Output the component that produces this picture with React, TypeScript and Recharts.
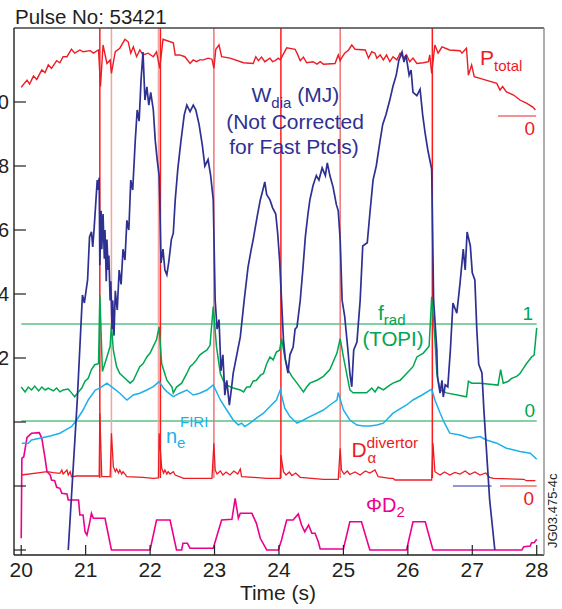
import React from "react";
import { ComposedChart, Line, XAxis, YAxis, ReferenceLine } from "recharts";

// JET pulse 53421 — traces, each on its own hidden scale
const timeTicks = [20, 21, 22, 23, 24, 25, 26, 27, 28];
const wTicks = [-4, -2, 0, 2, 4, 6, 8, 10];
const wLabelled = [2, 4, 6, 8, 10];

// W_dia (MJ)
const wDia: [number, number][] = [
  [20.73, -4.0], [20.87, 0.69], [20.95, 3.97], [20.98, 3.72], [21.03, 4.44], [21.06, 5.78], [21.09, 5.94],
  [21.11, 5.47], [21.13, 6.0], [21.16, 6.94], [21.18, 7.56], [21.19, 7.25], [21.21, 7.63], [21.22, 4.9],
  [21.24, 6.6], [21.25, 5.4], [21.27, 6.5], [21.29, 5.1], [21.3, 6.0], [21.32, 4.4], [21.33, 5.7], [21.35, 4.75],
  [21.36, 5.2], [21.38, 3.8], [21.39, 4.4], [21.41, 2.9], [21.42, 3.8], [21.44, 2.7], [21.46, 4.1], [21.49, 3.5],
  [21.52, 4.75], [21.55, 4.3], [21.58, 5.4], [21.61, 5.06], [21.64, 6.3], [21.67, 6.0], [21.7, 7.56], [21.73, 7.25],
  [21.77, 8.8], [21.8, 9.75], [21.83, 9.4], [21.86, 10.7], [21.89, 11.56], [21.92, 10.06], [21.95, 10.47],
  [21.98, 9.9], [22.01, 10.3], [22.05, 9.75], [22.08, 8.8], [22.11, 8.2], [22.14, 7.7], [22.15, 6.94], [22.17, 4.97],
  [22.2, 5.4], [22.23, 4.75], [22.26, 4.6], [22.29, 5.0], [22.33, 5.7], [22.36, 5.9], [22.39, 6.94], [22.43, 7.9],
  [22.48, 8.8], [22.53, 9.6], [22.57, 9.9], [22.62, 9.7], [22.67, 9.9], [22.71, 9.75], [22.76, 9.3], [22.81, 8.66],
  [22.85, 8.0], [22.9, 8.2], [22.94, 7.7], [22.98, 6.94], [23.01, 3.8], [23.04, 2.9], [23.07, 3.2], [23.1, 1.6],
  [23.13, 2.1], [23.16, 0.84], [23.19, 1.3], [23.23, 0.53], [23.26, 1.0], [23.29, 1.53], [23.33, 1.94], [23.4, 2.66],
  [23.46, 3.8], [23.52, 4.84], [23.57, 5.4], [23.6, 5.7], [23.66, 6.4], [23.71, 6.94], [23.75, 7.25], [23.78, 7.5],
  [23.81, 7.1], [23.86, 6.94], [23.9, 6.7], [23.95, 6.5], [23.98, 5.9], [24.01, 5.06], [24.04, 3.8], [24.07, 2.56],
  [24.1, 1.94], [24.14, 1.53], [24.17, 2.1], [24.22, 2.34], [24.25, 2.9], [24.28, 2.97], [24.33, 3.8], [24.37, 4.75],
  [24.41, 5.8], [24.45, 6.5], [24.48, 6.94], [24.53, 7.4], [24.58, 7.7], [24.62, 7.56], [24.67, 7.94], [24.72, 7.7],
  [24.75, 8.1], [24.79, 7.7], [24.84, 7.34], [24.89, 6.8], [24.92, 6.6], [24.95, 5.7], [24.98, 3.8], [25.02, 3.3],
  [25.07, 2.25], [25.1, 1.53], [25.13, 1.1], [25.16, 2.25], [25.21, 2.5], [25.26, 3.8], [25.3, 5.5], [25.37, 5.6],
  [25.41, 6.5], [25.46, 7.56], [25.51, 8.0], [25.57, 8.8], [25.61, 9.3], [25.66, 9.6], [25.72, 10.06], [25.77, 10.5],
  [25.82, 10.84], [25.86, 11.3], [25.91, 11.56], [25.94, 11.25], [25.97, 11.47], [26.02, 10.84], [26.05, 11.0],
  [26.08, 10.3], [26.14, 10.2], [26.19, 10.4], [26.23, 9.6], [26.27, 9.0], [26.31, 8.5], [26.36, 8.0], [26.37, 7.9],
  [26.4, 3.8], [26.45, 2.25], [26.46, 1.4], [26.5, 0.9], [26.53, 1.3], [26.55, 0.78], [26.58, 1.16], [26.62, 1.1],
  [26.66, 2.25], [26.7, 3.72], [26.76, 3.4], [26.81, 4.34], [26.86, 5.4], [26.89, 4.75], [26.92, 5.94], [26.97, 5.5],
  [27.0, 4.66], [27.04, 4.44], [27.07, 2.9], [27.1, 1.8], [27.15, 1.53], [27.18, 0.38], [27.23, -1.19], [27.27, -2.44],
  [27.35, -4.0],
];

// P_total (MW)
const pTotal: [number, number][] = [
  [20.0, 8.1], [20.09, 10.1], [20.13, 9.0], [20.19, 11.3], [20.24, 10.3], [20.32, 13.0], [20.37, 12.2], [20.42, 14.4],
  [20.47, 13.4], [20.55, 15.6], [20.6, 15.0], [20.65, 16.7], [20.71, 16.7], [20.78, 18.8], [20.83, 17.7], [20.91, 18.6],
  [20.96, 18.1], [21.07, 18.4], [21.12, 17.7], [21.2, 18.6], [21.23, 8.3], [21.27, 20.0], [21.33, 14.8], [21.38, 15.8],
  [21.4, 12.0], [21.46, 18.1], [21.53, 19.1], [21.61, 21.6], [21.66, 20.9], [21.7, 17.7], [21.74, 19.5], [21.79, 16.7],
  [21.84, 18.6], [21.89, 17.2], [21.97, 17.7], [22.05, 16.7], [22.1, 18.1], [22.15, 13.4], [22.2, 21.6], [22.36, 20.6],
  [22.39, 17.2], [22.46, 17.2], [22.54, 16.7], [22.62, 14.8], [22.67, 15.8], [22.72, 15.3], [22.77, 15.8], [22.83, 15.8],
  [22.9, 16.3], [22.96, 16.0], [22.99, 13.4], [23.02, 18.8], [23.07, 20.0], [23.11, 16.7], [23.24, 16.3], [23.45, 15.0],
  [23.6, 14.8], [23.64, 16.7], [23.68, 15.6], [23.73, 16.6], [23.78, 15.3], [23.86, 16.3], [23.9, 15.3], [23.94, 15.6],
  [23.99, 16.3], [24.02, 15.8], [24.12, 19.2], [24.25, 18.8], [24.28, 17.7], [24.33, 15.6], [24.38, 16.6], [24.43, 15.0],
  [24.53, 15.3], [24.59, 14.6], [24.64, 15.3], [24.69, 14.6], [24.87, 14.8], [24.92, 17.2], [24.95, 15.6], [24.97, 16.3],
  [25.02, 17.7], [25.08, 18.6], [25.13, 20.0], [25.18, 18.8], [25.34, 18.6], [25.39, 16.3], [25.44, 18.1], [25.49, 17.7],
  [25.52, 16.3], [25.57, 17.2], [25.62, 15.8], [25.67, 17.2], [25.72, 15.3], [25.77, 16.7], [25.83, 15.8], [25.88, 17.7],
  [25.93, 16.3], [25.98, 17.2], [26.03, 15.3], [26.08, 16.3], [26.14, 14.8], [26.24, 15.0], [26.32, 15.3], [26.34, 17.2],
  [26.37, 12.0], [26.42, 20.0], [26.47, 17.7], [26.53, 19.5], [26.65, 18.6], [26.81, 18.4], [26.84, 17.7], [26.91, 19.1],
  [26.94, 11.5], [26.99, 14.4], [27.03, 11.1], [27.12, 10.6], [27.38, 9.2], [27.43, 7.3], [27.47, 8.3], [27.53, 6.8],
  [27.64, 5.9], [27.74, 4.5], [27.84, 3.6], [27.94, 2.5], [27.98, 1.7],
];

// f_rad (TOPI)
const fRad: [number, number][] = [
  [20.0, 0.35], [20.06, 0.3], [20.11, 0.35], [20.16, 0.32], [20.21, 0.36], [20.27, 0.31], [20.32, 0.35], [20.37, 0.32],
  [20.42, 0.34], [20.5, 0.31], [20.55, 0.34], [20.6, 0.3], [20.65, 0.32], [20.73, 0.33], [20.78, 0.29], [20.83, 0.25],
  [20.89, 0.3], [20.94, 0.34], [20.99, 0.41], [21.04, 0.44], [21.09, 0.53], [21.14, 0.58], [21.2, 0.59], [21.22, 1.3],
  [21.26, 0.51], [21.33, 0.66], [21.38, 0.77], [21.4, 0.99], [21.43, 0.73], [21.48, 0.56], [21.53, 0.49], [21.61, 0.44],
  [21.69, 0.39], [21.74, 0.42], [21.79, 0.49], [21.84, 0.56], [21.89, 0.59], [21.95, 0.66], [22.0, 0.7], [22.05, 0.77],
  [22.1, 0.84], [22.14, 0.97], [22.18, 0.59], [22.26, 0.42], [22.34, 0.35], [22.36, 0.29], [22.41, 0.35], [22.49, 0.39],
  [22.57, 0.49], [22.62, 0.56], [22.67, 0.59], [22.72, 0.63], [22.77, 0.68], [22.83, 0.71], [22.88, 0.73], [22.93, 0.78],
  [22.98, 1.18], [23.03, 0.77], [23.09, 0.49], [23.14, 0.41], [23.19, 0.37], [23.29, 0.34], [23.4, 0.32], [23.45, 0.3],
  [23.5, 0.35], [23.55, 0.35], [23.6, 0.41], [23.65, 0.42], [23.71, 0.47], [23.76, 0.49], [23.81, 0.59], [23.86, 0.66],
  [23.91, 0.63], [23.96, 0.71], [24.01, 0.73], [24.04, 0.85], [24.09, 0.66], [24.14, 0.53], [24.2, 0.46], [24.28, 0.39],
  [24.38, 0.3], [24.43, 0.35], [24.48, 0.39], [24.59, 0.42], [24.69, 0.46], [24.79, 0.53], [24.9, 0.7], [24.95, 0.85],
  [25.0, 0.66], [25.05, 0.49], [25.1, 0.32], [25.15, 0.29], [25.26, 0.29], [25.36, 0.29], [25.44, 0.34], [25.49, 0.3],
  [25.54, 0.35], [25.62, 0.32], [25.72, 0.37], [25.77, 0.39], [25.88, 0.42], [25.98, 0.49], [26.08, 0.56], [26.14, 0.66],
  [26.24, 0.7], [26.33, 0.77], [26.37, 1.28], [26.42, 0.84], [26.45, 0.49], [26.5, 0.32], [26.6, 0.29], [26.91, 0.25],
  [26.94, 0.41], [26.99, 0.39], [27.12, 0.39], [27.4, 0.37], [27.44, 0.53], [27.48, 0.39], [27.56, 0.41], [27.61, 0.44],
  [27.69, 0.46], [27.74, 0.49], [27.79, 0.54], [27.84, 0.59], [27.92, 0.66], [27.96, 0.68], [28.0, 0.96],
];

// n_e FIRI (10^19 m^-3)
const neFiri: [number, number][] = [
  [20.01, 2.14], [20.11, 2.14], [20.16, 2.3], [20.29, 2.39], [20.45, 2.5], [20.6, 2.64], [20.71, 2.84], [20.78, 2.97],
  [20.86, 3.3], [20.91, 3.55], [20.96, 3.8], [21.04, 4.3], [21.15, 4.8], [21.22, 4.89], [21.33, 5.14], [21.43, 4.89],
  [21.53, 4.64], [21.64, 4.3], [21.74, 4.55], [21.84, 4.64], [21.95, 4.8], [22.05, 4.97], [22.14, 5.22], [22.21, 4.89],
  [22.26, 4.72], [22.36, 4.47], [22.46, 4.64], [22.57, 4.8], [22.67, 4.55], [22.77, 4.64], [22.88, 4.8], [22.98, 5.05],
  [23.09, 4.3], [23.19, 3.8], [23.29, 3.3], [23.37, 3.05], [23.42, 3.14], [23.47, 2.97], [23.55, 3.14], [23.65, 3.39],
  [23.76, 3.64], [23.86, 3.97], [23.96, 4.3], [24.02, 4.8], [24.09, 3.89], [24.17, 3.47], [24.28, 3.14], [24.38, 3.3],
  [24.48, 3.47], [24.59, 3.64], [24.69, 3.8], [24.79, 4.05], [24.9, 4.3], [24.92, 4.67], [25.0, 3.8], [25.1, 3.3],
  [25.21, 3.05], [25.31, 3.0], [25.41, 3.0], [25.52, 3.05], [25.62, 3.14], [25.77, 3.64], [25.98, 4.05], [26.08, 4.3],
  [26.22, 4.55], [26.37, 4.84], [26.42, 4.3], [26.5, 3.65], [26.57, 3.14], [26.65, 2.64], [26.81, 2.55], [26.96, 2.39],
  [27.12, 2.47], [27.22, 2.3], [27.38, 2.14], [27.53, 1.89], [27.74, 1.72], [27.9, 1.64], [28.0, 1.34],
];

// D_alpha divertor (a.u.)
const dAlpha: [number, number][] = [
  [20.0, 1.1], [20.29, 1.33], [20.4, 1.43], [20.5, 1.33], [20.6, 1.27], [20.63, 1.6], [20.65, 1.2], [20.71, 1.6],
  [20.73, 1.1], [20.76, 1.43], [20.78, 0.93], [20.86, 1.0], [21.17, 1.0], [21.21, 1.0], [21.22, 7.27], [21.25, 0.93],
  [21.38, 0.93], [21.4, 5.27], [21.43, 1.93], [21.46, 1.43], [21.48, 1.7], [21.51, 1.3], [21.53, 1.6], [21.56, 1.2],
  [21.58, 1.43], [21.64, 0.93], [21.89, 0.87], [22.05, 0.77], [22.13, 0.8], [22.14, 5.27], [22.18, 1.77], [22.21, 1.3],
  [22.23, 1.6], [22.26, 1.2], [22.28, 1.43], [22.31, 1.2], [22.36, 1.43], [22.39, 1.1], [22.52, 0.77], [22.96, 0.77],
  [22.99, 4.27], [23.01, 1.6], [23.04, 1.2], [23.09, 1.5], [23.13, 1.1], [23.18, 1.4], [23.24, 1.1], [23.3, 1.5],
  [23.36, 1.2], [23.4, 1.7], [23.42, 0.93], [23.6, 0.87], [23.81, 0.77], [24.02, 0.77], [24.03, 3.1], [24.07, 1.43],
  [24.11, 1.1], [24.16, 1.4], [24.2, 1.05], [24.26, 1.3], [24.33, 0.87], [24.69, 0.67], [24.92, 0.67], [24.95, 3.77],
  [24.97, 1.6], [25.01, 1.2], [25.06, 1.5], [25.1, 1.15], [25.18, 1.4], [25.26, 1.1], [25.34, 1.5], [25.41, 1.3],
  [25.49, 1.6], [25.54, 0.93], [25.72, 0.77], [25.77, 0.77], [25.8, 0.6], [26.37, 0.6], [26.39, 4.27], [26.42, 1.43],
  [26.5, 1.1], [26.57, 1.4], [26.65, 1.1], [26.73, 1.35], [26.81, 1.2], [26.89, 1.5], [26.96, 1.15], [27.04, 1.4],
  [27.12, 1.1], [27.21, 1.3], [27.27, 0.87], [27.33, 0.77], [27.8, 0.67], [27.84, 0.53], [27.98, 0.53],
];

// Phi D2 gas fuelling (10^21 el/s)
const phiD2: [number, number][] = [
  [20.0, 1.17], [20.01, 9.17], [20.04, 9.33], [20.09, 11.27], [20.16, 11.67], [20.28, 11.73], [20.32, 11.17],
  [20.37, 9.17], [20.4, 7.83], [20.45, 7.5], [20.47, 7.0], [20.52, 6.93], [20.55, 6.27], [20.6, 6.17], [20.63, 5.67],
  [20.71, 5.6], [20.73, 5.0], [20.89, 5.0], [20.91, 3.5], [20.96, 3.5], [20.99, 1.83], [21.02, 1.5], [21.06, 2.67],
  [21.09, 3.67], [21.12, 3.17], [21.3, 3.17], [21.4, 0], [22.0, 0], [22.1, 3.0], [22.31, 3.0], [22.41, 0], [22.49, 0],
  [22.51, 0.67], [22.58, 0.67], [22.62, 0.17], [22.98, 0.17], [23.11, 3.0], [23.27, 3.07], [23.32, 5.17], [23.37, 3.17],
  [23.4, 3.67], [23.58, 3.67], [23.65, 2.67], [23.71, 1.17], [23.81, 0], [23.99, 0], [24.04, 1.0], [24.12, 3.0],
  [24.22, 3.0], [24.3, 3.6], [24.35, 2.5], [24.4, 1.83], [24.46, 2.5], [24.51, 1.67], [24.56, 1.67], [24.61, 0.83],
  [24.64, 0.1], [25.0, 0.1], [25.1, 2.83], [25.28, 2.83], [25.41, 0], [25.98, 0], [26.08, 2.83], [26.27, 2.83],
  [26.39, 0], [27.77, 0], [27.8, 0.33], [27.9, 0.4], [27.92, 0.73], [27.96, 0.73], [28.0, 1.07],
];

// D_alpha spikes that run off the top of the frame
const spikeTimes = [21.22, 21.4, 22.13, 22.16, 22.99, 24.03, 24.95, 26.38];

// ---- layout ----
const WIDTH = 562;
const HEIGHT = 609;
const PLOT_TOP = 28;
const PLOT_BOTTOM = 555;
const FONT = "'Liberation Sans', Arial, Helvetica, sans-serif";
const INK = "#231f20";

const domainFor = (zeroPx: number, pxPerUnit: number): [number, number] => [
  (zeroPx - PLOT_BOTTOM) / pxPerUnit,
  (zeroPx - PLOT_TOP) / pxPerUnit,
];

const C = {
  w: "#2e3192",
  p: "#ed1c24",
  f: "#00a651",
  fLine: "#5cc285",
  n: "#1cb0ec",
  d: "#ed1c24",
  g: "#ec008c",
};
const spikeColors = ["#ff1a1a", "#f4a3a3", "#f4a3a3", "#ff1a1a", "#f27474", "#ff1a1a", "#f27474", "#ff1a1a"];

const rows = (pts: [number, number][]) => pts.map(([t, v]) => ({ t, v }));

const XTick = (props: any) => {
  const { x, y, payload } = props;
  return (
    <g>
      <line x1={x} x2={x} y1={y} y2={y - 10} stroke={INK} strokeWidth={1.2} />
      <text x={x} y={y + 22} textAnchor="middle" fontSize={21} fontFamily={FONT} fill={INK}>
        {payload.value}
      </text>
    </g>
  );
};

const YTick = (props: any) => {
  const { x, y, payload } = props;
  return (
    <g>
      <line x1={x} x2={x + 12} y1={y} y2={y} stroke={INK} strokeWidth={1.2} />
      {wLabelled.includes(payload.value) && (
        <text x={x - 5} y={y + 7} textAnchor="end" fontSize={20} fontFamily={FONT} fill={INK}>
          {payload.value}
        </text>
      )}
    </g>
  );
};

export default function App() {
  const xDomain: [number, number] = [19.888, 28.113];
  return (
    <div style={{ position: "absolute", left: 0, top: 0, width: WIDTH, height: HEIGHT, background: "#fff" }}>
      <ComposedChart width={WIDTH} height={HEIGHT} margin={{ top: 27, right: 17, bottom: 53, left: 13 }}>
        <XAxis
          xAxisId="t"
          type="number"
          dataKey="t"
          domain={xDomain}
          allowDataOverflow
          ticks={timeTicks}
          interval={0}
          height={1}
          tickSize={0}
          tickMargin={0}
          tick={(p: any) => <XTick {...p} />}
          axisLine={{ stroke: INK, strokeWidth: 1.4 }}
        />
        <XAxis
          xAxisId="top"
          orientation="top"
          type="number"
          domain={xDomain}
          allowDataOverflow
          ticks={timeTicks}
          height={1}
          tick={false}
          tickLine={false}
          axisLine={{ stroke: "#444", strokeWidth: 1.4 }}
        />
        <YAxis
          yAxisId="w"
          type="number"
          domain={domainFor(422, 32)}
          allowDataOverflow
          ticks={wTicks}
          interval={0}
          width={1}
          tickSize={0}
          tickMargin={0}
          tick={(p: any) => <YTick {...p} />}
          axisLine={{ stroke: INK, strokeWidth: 1.4 }}
        />
        <YAxis
          yAxisId="r"
          orientation="right"
          type="number"
          domain={[0, 1]}
          ticks={[0, 1]}
          width={1}
          tick={false}
          tickLine={false}
          axisLine={{ stroke: "#8c8c8c", strokeWidth: 1.4 }}
        />
        <YAxis yAxisId="p" hide width={0} type="number" domain={domainFor(116, 3.55)} allowDataOverflow />
        <YAxis yAxisId="f" hide width={0} type="number" domain={domainFor(421, 97)} allowDataOverflow />
        <YAxis yAxisId="n" hide width={0} type="number" domain={domainFor(486, 20)} allowDataOverflow />
        <YAxis yAxisId="d" hide width={0} type="number" domain={domainFor(486, 10)} allowDataOverflow />
        <YAxis yAxisId="g" hide width={0} type="number" domain={domainFor(550, 10)} allowDataOverflow />

        {/* f_rad reference levels 0 and 1 */}
        <ReferenceLine xAxisId="t" yAxisId="f" ifOverflow="visible" stroke={C.fLine} strokeWidth={1.6}
          segment={[{ x: 20, y: 1 }, { x: 28, y: 1 }]} />
        <ReferenceLine xAxisId="t" yAxisId="f" ifOverflow="visible" stroke={C.fLine} strokeWidth={1.6}
          segment={[{ x: 20, y: 0 }, { x: 28, y: 0 }]} />

        {/* zero markers on the right */}
        <ReferenceLine xAxisId="t" yAxisId="p" ifOverflow="visible" stroke="#f26d6d" strokeWidth={1.4}
          segment={[{ x: 27.4, y: 0 }, { x: 27.99, y: 0 }]} />
        <ReferenceLine xAxisId="t" yAxisId="d" ifOverflow="visible" stroke="#f26d6d" strokeWidth={1.4}
          segment={[{ x: 27.43, y: 0 }, { x: 28.0, y: 0 }]} />
        <ReferenceLine xAxisId="t" yAxisId="w" ifOverflow="visible" stroke="#6f73c2" strokeWidth={1.4}
          segment={[{ x: 26.7, y: -2 }, { x: 27.3, y: -2 }]} />

        {/* large D_alpha spikes */}
        {spikeTimes.map((t, i) => (
          <ReferenceLine key={t} xAxisId="t" yAxisId="d" ifOverflow="visible" stroke={spikeColors[i]} strokeWidth={1.5}
            segment={[{ x: t, y: 0.8 }, { x: t, y: 45.8 }]} />
        ))}

        <Line xAxisId="t" yAxisId="g" data={rows(phiD2)} dataKey="v" type="linear" stroke={C.g} strokeWidth={1.6}
          dot={false} isAnimationActive={false} />
        <Line xAxisId="t" yAxisId="d" data={rows(dAlpha)} dataKey="v" type="linear" stroke={C.d} strokeWidth={1.3}
          dot={false} isAnimationActive={false} />
        <Line xAxisId="t" yAxisId="n" data={rows(neFiri)} dataKey="v" type="linear" stroke={C.n} strokeWidth={1.5}
          dot={false} isAnimationActive={false} />
        <Line xAxisId="t" yAxisId="f" data={rows(fRad)} dataKey="v" type="linear" stroke={C.f} strokeWidth={1.5}
          dot={false} isAnimationActive={false} />
        <Line xAxisId="t" yAxisId="p" data={rows(pTotal)} dataKey="v" type="linear" stroke={C.p} strokeWidth={1.4}
          dot={false} isAnimationActive={false} />
        <Line xAxisId="t" yAxisId="w" data={rows(wDia)} dataKey="v" type="linear" stroke={C.w} strokeWidth={1.7}
          dot={false} isAnimationActive={false} />
      </ComposedChart>

      <svg width={WIDTH} height={HEIGHT} style={{ position: "absolute", left: 0, top: 0, pointerEvents: "none" }}
        fontFamily={FONT}>
        <text x={15} y={24} fontSize={20.5} fill={INK}>Pulse No: 53421</text>
        <text x={278} y={600} fontSize={21} fill={INK} textAnchor="middle">Time (s)</text>

        <text x={251.5} y={102} fontSize={21} fill={C.w}>
          W<tspan fontSize={15} dy={6}>dia</tspan><tspan dy={-6}> (MJ)</tspan>
        </text>
        <text x={295} y={129} fontSize={21} fill={C.w} textAnchor="middle">(Not Corrected</text>
        <text x={294} y={153.5} fontSize={21} fill={C.w} textAnchor="middle">for Fast Ptcls)</text>

        <text x={480} y={65} fontSize={21} fill={C.p}>
          P<tspan fontSize={15} dy={6}>total</tspan>
        </text>
        <text x={535} y={135} fontSize={19} fill={C.p} textAnchor="end">0</text>

        <text x={378} y={320} fontSize={21} fill={C.f}>
          f<tspan fontSize={15} dy={5}>rad</tspan>
        </text>
        <text x={393} y={346} fontSize={20.5} fill={C.f} textAnchor="middle">(TOPI)</text>
        <text x={533} y={320} fontSize={19} fill={C.f} textAnchor="end">1</text>
        <text x={535} y={417} fontSize={19} fill={C.f} textAnchor="end">0</text>

        <text x={166} y={443} fontSize={20} fill={C.n}>n</text>
        <text x={177} y={448} fontSize={15} fill={C.n}>e</text>
        <text x={180} y={427} fontSize={15} fill={C.n}>FIRI</text>

        <text x={351.5} y={456.5} fontSize={21} fill={C.d}>D</text>
        <text x={366.5} y={447.5} fontSize={15.5} fill={C.d}>divertor</text>
        <text x={367.5} y={463} fontSize={15} fill={C.d}>α</text>
        <text x={534} y={505} fontSize={19} fill={C.d} textAnchor="end">0</text>

        <text x={366} y={512} fontSize={20} fill={C.g}>
          ΦD<tspan fontSize={15} dy={5}>2</tspan>
        </text>

        <text x={0} y={0} fontSize={13} fill={INK} transform="translate(556.5 548) rotate(-90)">JG03.475-4c</text>
      </svg>
    </div>
  );
}
